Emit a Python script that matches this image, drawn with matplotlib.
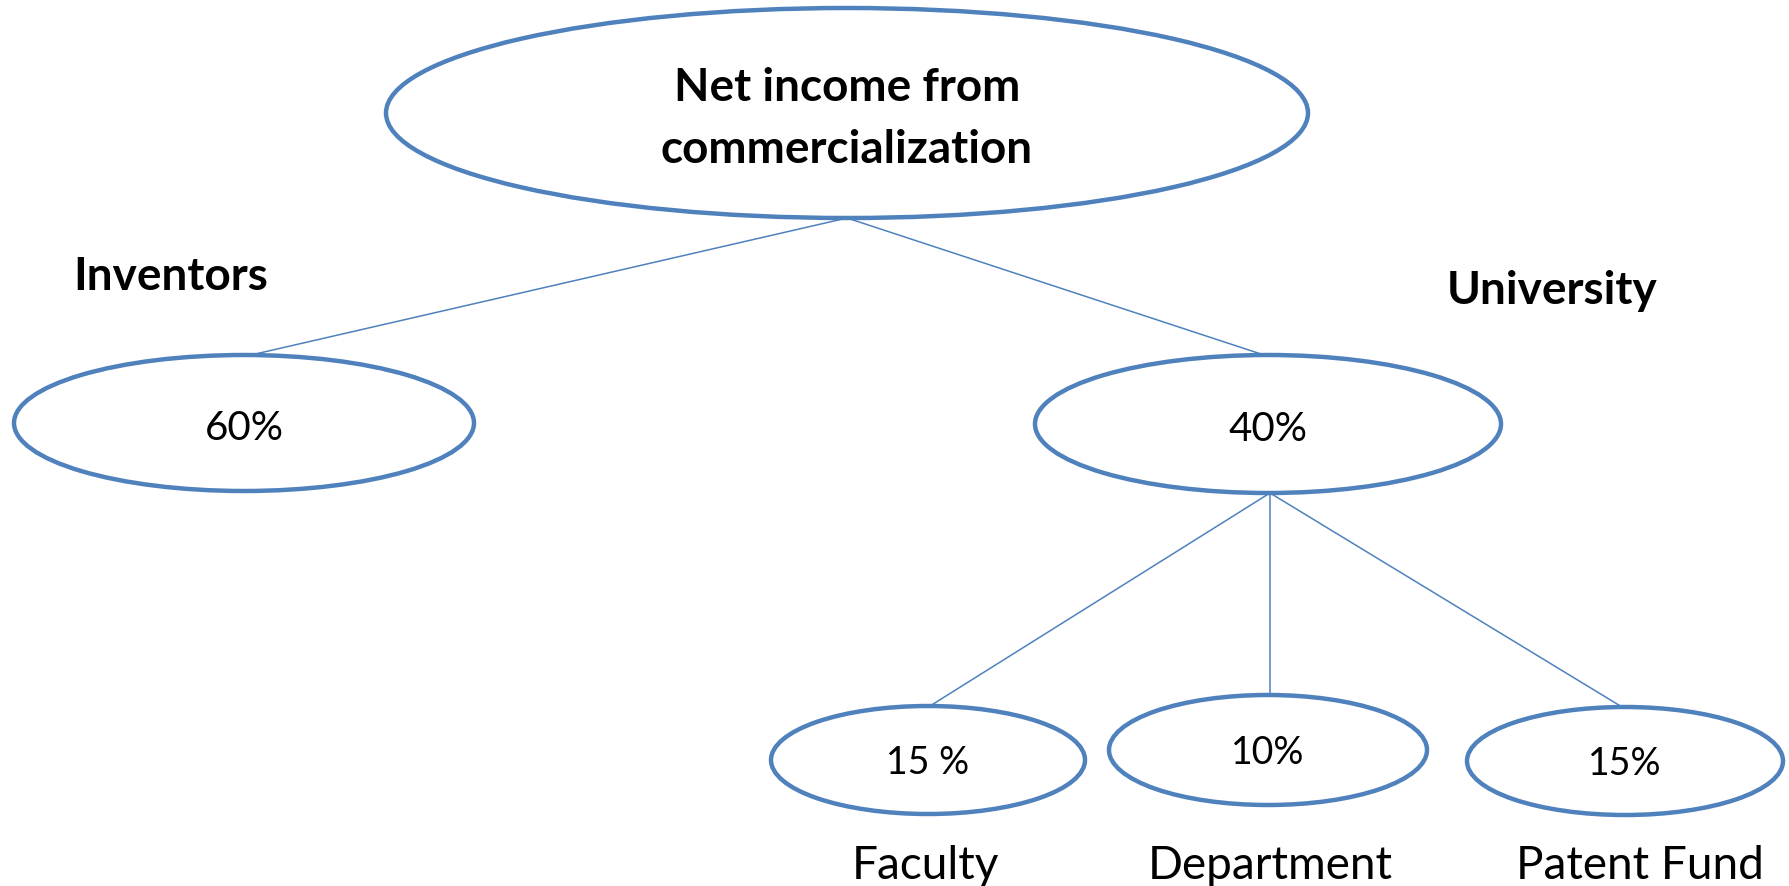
import matplotlib.pyplot as plt
from matplotlib.patches import Ellipse

# data
ROOT_LABEL = "Net income from\ncommercialization"
SPLIT_NAMES = ["Inventors", "University"]
SPLIT_SHARES = ["60%", "40%"]
UNI_NAMES = ["Faculty", "Department", "Patent Fund"]
UNI_SHARES = ["15 %", "10%", "15%"]

EDGE = "#4F81BD"
FONT = ["Lato", "DejaVu Sans"]

# layout in pixel coords (x, y, half width, half height)
root_box = (847, 114, 461, 105)
split_boxes = [(244, 424, 230, 68), (1268, 425, 233, 69)]
uni_boxes = [(928, 761, 157, 54), (1268, 751, 159, 55), (1625, 762, 158, 54)]
split_name_pos = [(73, 277), (1447, 291)]
uni_name_x = [925, 1270, 1640]
uni_name_y = 866
split_tops = [251, 1264]
uni_tops = [930, 1270, 1622]

fig = plt.figure(figsize=(17.89, 8.87), dpi=100)
ax = fig.add_axes([0, 0, 1, 1])
ax.set_xlim(0, 1789)
ax.set_ylim(887, 0)
ax.axis("off")


def node(box, text, text_dy=0, **kw):
    x, y, hw, hh = box
    ax.add_patch(Ellipse((x, y), 2 * hw, 2 * hh, facecolor="white",
                         edgecolor=EDGE, linewidth=3.2, zorder=3))
    ax.text(x, y + text_dy, text, ha="center", va="center", family=FONT,
            zorder=4, **kw)


# connectors
rx, ry, rhw, rhh = root_box
for box, tx in zip(split_boxes, split_tops):
    ax.plot([rx, tx], [ry + rhh, box[1] - box[3]], color=EDGE, lw=1.1, zorder=1)

ux, uy, uhw, uhh = split_boxes[1]
for box, tx in zip(uni_boxes, uni_tops):
    ax.plot([ux + 2, tx], [uy + uhh, box[1] - box[3]], color=EDGE, lw=1.1, zorder=1)

node(root_box, ROOT_LABEL, text_dy=5, fontsize=33, fontweight="bold",
     linespacing=1.6)
for box, share in zip(split_boxes, SPLIT_SHARES):
    node(box, share, text_dy=5, fontsize=29)
for box, share in zip(uni_boxes, UNI_SHARES):
    node(box, share, text_dy=2, fontsize=27)

for name, (x, y) in zip(SPLIT_NAMES, split_name_pos):
    ax.text(x, y, name, ha="left", va="center", family=FONT, fontsize=33,
            fontweight="bold")
for name, x in zip(UNI_NAMES, uni_name_x):
    ax.text(x, uni_name_y, name, ha="center", va="center", family=FONT,
            fontsize=33)

fig.savefig("out.png", dpi=100)
